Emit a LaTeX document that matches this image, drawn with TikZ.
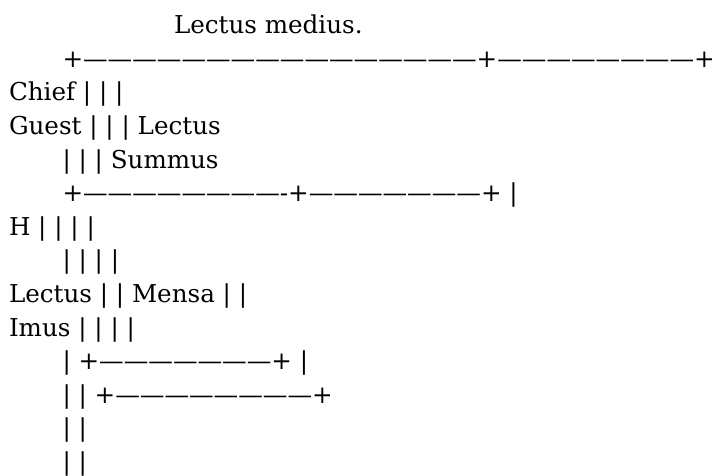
\documentclass[tikz,border=0pt]{standalone}
\usepackage{fontspec}
\setmainfont{DejaVu Serif}
\begin{document}
\begin{tikzpicture}[x=0.75pt,y=-0.75pt,
  textline/.style={anchor=base west, inner sep=0pt, outer sep=0pt,
    font=\fontsize{18.45pt}{22pt}\selectfont}]
\useasboundingbox (0,0) rectangle (714,475);
% one node per line of the seating plan, baselines 33.6px apart
\node[textline] (l1)  at (174,33.6)  {Lectus medius.};
\node[textline] (l2)  at (62.5,67.2) {+————————————————+————————+};
\node[textline] (l3)  at (9,100.8)   {Chief | | |};
\node[textline] (l4)  at (9,134.4)   {Guest | | | Lectus};
\node[textline] (l5)  at (62.5,168)  {| | | Summus};
\node[textline] (l6)  at (62.5,201.6) {+————————-+———————+ |};
\node[textline] (l7)  at (9,235.2)   {H | | | |};
\node[textline] (l8)  at (62.5,268.8) {| | | |};
\node[textline] (l9)  at (9,302.4)   {Lectus | | Mensa | |};
\node[textline] (l10) at (9,336)     {Imus | | | |};
\node[textline] (l11) at (62.5,369.6) {| +———————+ |};
\node[textline] (l12) at (62.5,403.2) {| | +————————+};
\node[textline] (l13) at (62.5,436.8) {| |};
\node[textline] (l14) at (62.5,470.4) {| |};
\end{tikzpicture}
\end{document}
